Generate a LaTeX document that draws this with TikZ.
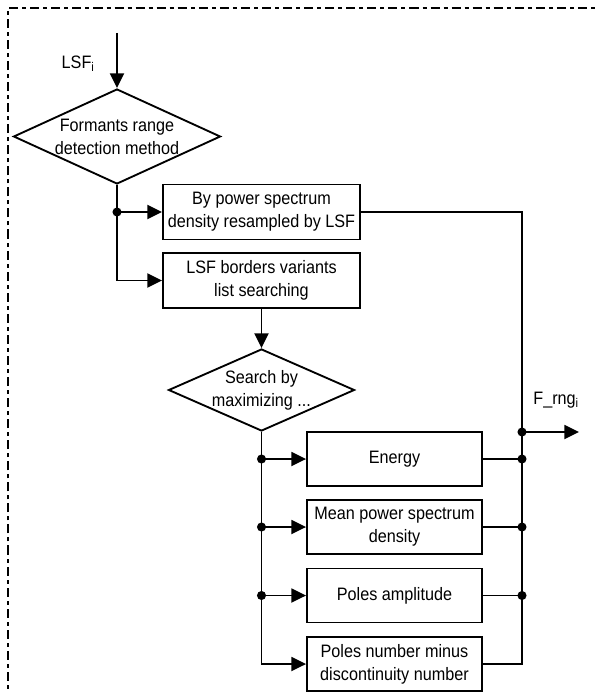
\documentclass[tikz,border=0pt]{standalone}
\usepackage{fontspec}
\setmainfont{Liberation Sans}[FakeStretch=0.9]
\usepackage{tikz}
\usetikzlibrary{arrows.meta,shapes.geometric,calc}

\begin{document}
\begin{tikzpicture}[x=0.75pt, y=-0.75pt, line width=1.4pt,
  txt/.style={font=\fontsize{13.5}{17.25}\selectfont},
  block/.style={draw, rectangle, align=center, inner sep=0pt, txt},
  wide/.style={block, minimum width=147.75pt, minimum height=41.25pt},
  pick/.style={block, minimum width=131.25pt, minimum height=40.5pt},
  decision/.style={draw, diamond, inner sep=0pt},
  arr/.style={-{Triangle[length=11pt,width=10.5pt]}},
]
\useasboundingbox (0,0) rectangle (597,692);

% frame, only its top and left edges are inside the page
\draw[line width=1.9pt, dash pattern=on 3pt off 3pt on 6.8pt off 3pt]
  (8,710) -- (8,8) -- (615,8);

\coordinate (in) at (117,33);
\node[decision, minimum width=155.25pt, minimum height=71.25pt,
  label={[txt,align=center]center:Formants range\\detection method}] (d1) at (117,136.5) {};
\node[txt, anchor=east] (lsf) at (100,64) {LSF\textsubscript{i}};

\node[wide] (b1) at (261.5,212) {By power spectrum\\density resampled by LSF};
\node[wide] (b2) at (261.5,280.5) {LSF borders variants\\list searching};

\node[decision, minimum width=139.5pt, minimum height=61.5pt,
  label={[txt,align=center]center:Search by\\maximizing ...}] (d2) at (261.5,390) {};

\node[pick] (m1) at (394.5,459) {Energy};
\node[pick] (m2) at (394.5,527) {Mean power spectrum\\density};
\node[pick] (m3) at (394.5,595.5) {Poles amplitude};
\node[pick] (m4) at (394.5,664) {Poles number minus\\discontinuity number};

\coordinate (out) at (522,432);
\coordinate (fout) at (579,432);
\node[txt, anchor=south west] (frng) at (528,414) {F\_rng\textsubscript{i}};

% upper part
\draw[arr] (in) -- (d1.north);
\coordinate (j1) at (d1.south |- b1.west);
\draw[arr] (d1.south) |- (b2.west);
\draw[arr] (j1) -- (b1.west);
\fill (j1) circle (3.4pt);
\draw[arr] (b2.south) -- (d2.north);

% variants of the search
\draw[arr] (d2.south) |- (m4.west);
\foreach \m in {m1,m2,m3}{
  \draw[arr] (d2.south |- \m.west) -- (\m.west);
  \fill (d2.south |- \m.west) circle (3.4pt);
  \draw (\m.east) -- (\m.east -| out);
  \fill (\m.east -| out) circle (3.4pt);
}

% collecting line and output
\draw (b1.east) -| (m4.east -| out) -- (m4.east);
\draw[arr] (out) -- (fout);
\fill (out) circle (3.4pt);
\end{tikzpicture}
\end{document}
